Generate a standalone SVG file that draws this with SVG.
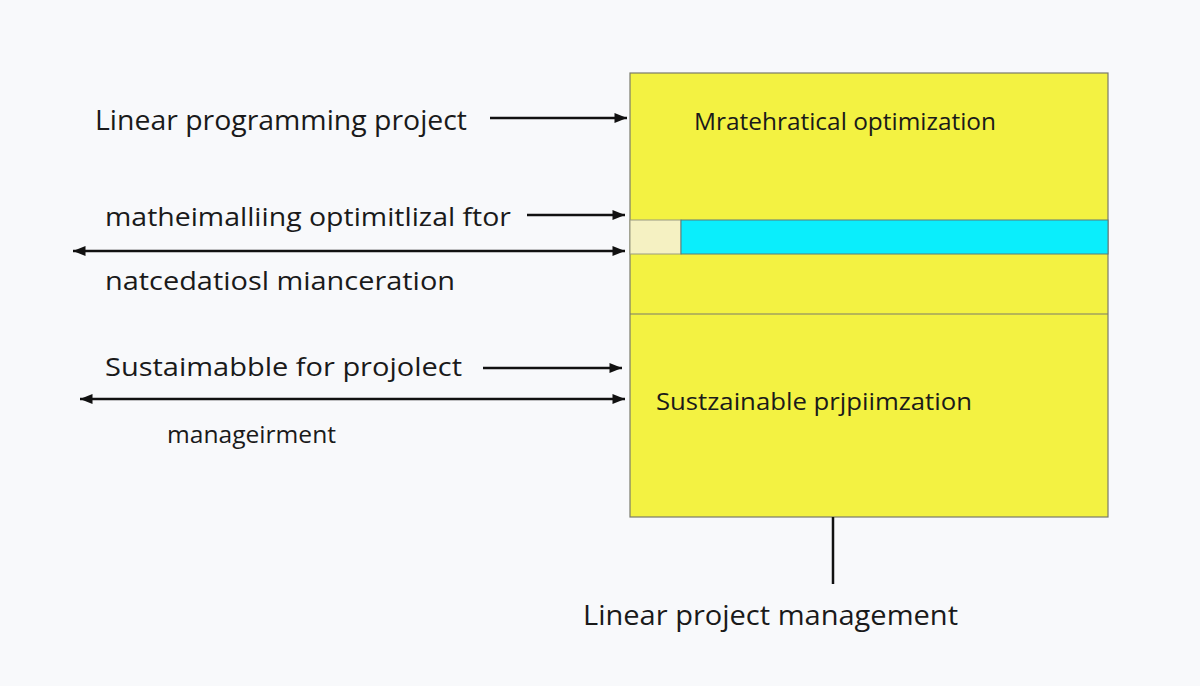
<svg xmlns="http://www.w3.org/2000/svg" width="1200" height="686" viewBox="0 0 1200 686">
<style>
text{font-family:"Open Sans","DejaVu Sans",sans-serif;fill:#1a1a1a}
.big{font-size:28px}
.mid{font-size:25px}
.in{font-size:24px}
.ln{stroke:#111;stroke-width:2.5;fill:none}
</style>
<defs>
<marker id="ah" viewBox="0 0 10 10" refX="10" refY="5" markerWidth="6" markerHeight="5" orient="auto-start-reverse" markerUnits="strokeWidth">
<path d="M0,1 L10,5 L0,9 Z" fill="#111"/>
</marker>
</defs>
<rect width="1200" height="686" fill="#f8f9fb"/>
<g id="main-box">
<rect x="630" y="73" width="478" height="444" fill="#f3f242" stroke="#7a7a6a" stroke-width="1.2"/>
<line x1="630" y1="314" x2="1108" y2="314" stroke="#7a7a6a" stroke-width="1.2"/>
<text class="in" x="694" y="130" textLength="302" lengthAdjust="spacingAndGlyphs">Mratehratical optimization</text>
<text class="in" x="656" y="410" textLength="316" lengthAdjust="spacingAndGlyphs">Sustzainable prjpiimzation</text>
</g>
<g id="band">
<rect x="630" y="220" width="51" height="34" fill="#f5f1c2" stroke="#9a9a80" stroke-width="1"/>
<rect x="681" y="220" width="427" height="34" fill="#0aeefc" stroke="#5a7a7a" stroke-width="1"/>
</g>
<g id="label-linear-programming"><text class="big" x="95" y="130" textLength="372" lengthAdjust="spacingAndGlyphs">Linear programming project</text></g>
<g id="label-matheimalliing"><text class="mid" x="105" y="226" textLength="406" lengthAdjust="spacingAndGlyphs">matheimalliing optimitlizal ftor</text></g>
<g id="label-natcedatiosl"><text class="mid" x="105" y="290" textLength="350" lengthAdjust="spacingAndGlyphs">natcedatiosl mianceration</text></g>
<g id="label-sustaimabble"><text class="mid" x="105" y="376" textLength="357" lengthAdjust="spacingAndGlyphs">Sustaimabble for projolect</text></g>
<g id="label-manageirment"><text class="in" x="167" y="443" textLength="169" lengthAdjust="spacingAndGlyphs">manageirment</text></g>
<g id="label-linear-project"><text class="big" x="583" y="625" textLength="375" lengthAdjust="spacingAndGlyphs">Linear project management</text></g>
<g id="connectors">
<line class="ln" x1="490" y1="118" x2="627" y2="118" marker-end="url(#ah)"/>
<line class="ln" x1="527" y1="215" x2="625" y2="215" marker-end="url(#ah)"/>
<line class="ln" x1="73" y1="251" x2="625" y2="251" marker-start="url(#ah)" marker-end="url(#ah)"/>
<line class="ln" x1="483" y1="368" x2="622" y2="368" marker-end="url(#ah)"/>
<line class="ln" x1="80" y1="399" x2="625" y2="399" marker-start="url(#ah)" marker-end="url(#ah)"/>
<line class="ln" x1="833" y1="517" x2="833" y2="584"/>
</g>
</svg>
